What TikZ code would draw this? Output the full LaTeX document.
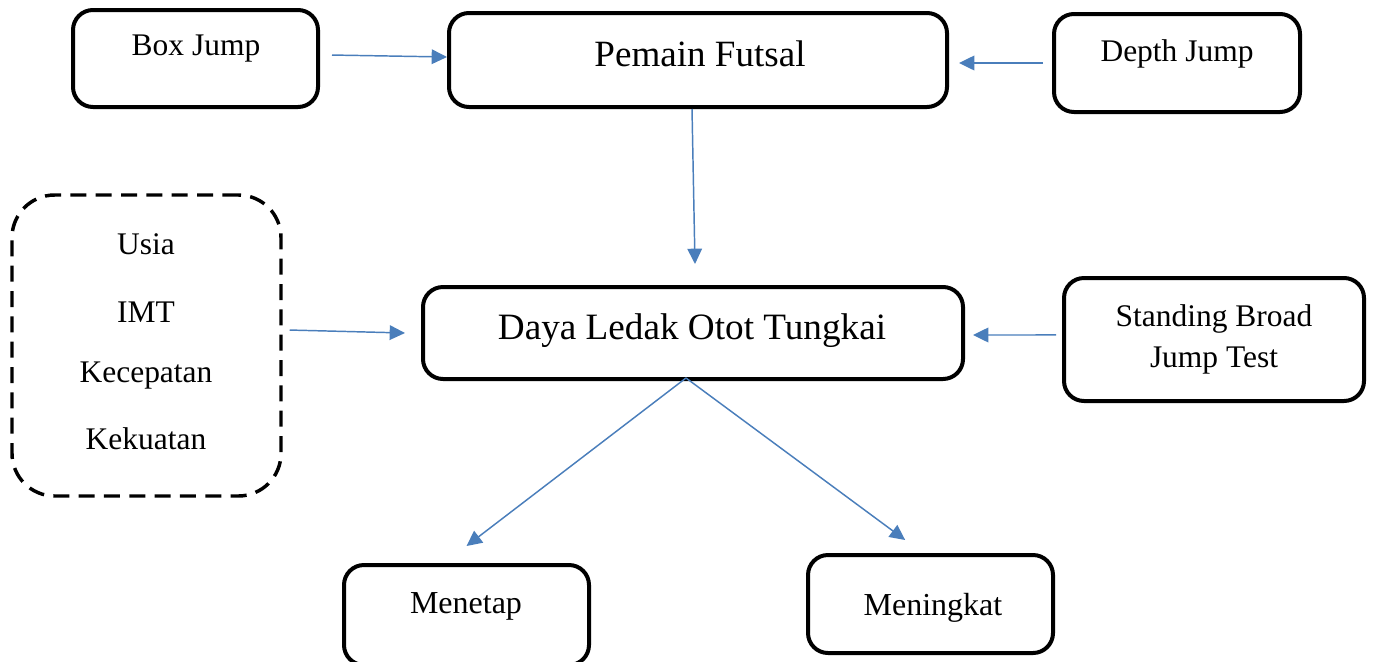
\documentclass[tikz,border=0pt]{standalone}
\usepackage{fontspec}
\setmainfont{Liberation Serif}
\usetikzlibrary{arrows.meta,calc}
\definecolor{arrblue}{HTML}{4A7EBB}
\tikzset{
  box/.style={draw=black, line width=3pt, rounded corners=15pt, inner sep=0pt},
  dbox/.style={draw=black, line width=2.6pt, rounded corners=32pt, inner sep=0pt, dash pattern=on 12pt off 7pt},
  txt/.style={inner sep=0pt, font=\fontsize{23.6pt}{28pt}\selectfont, align=center},
  arr/.style={draw=arrblue, line width=1.1pt, -{Triangle[length=11.5pt,width=11pt]}},
}
\begin{document}
\begin{tikzpicture}[x=0.75pt,y=-0.75pt]
\useasboundingbox (0,0) rectangle (1376,661);
\begin{scope}
\clip (0,0) rectangle (1376,661);
% boxes
\node[box, minimum width={245*0.75pt}, minimum height={97*0.75pt}] (bj) at (195.5,58.5) {};
\node[box, minimum width={498*0.75pt}, minimum height={94*0.75pt}] (pf) at (698,60) {};
\node[box, minimum width={246*0.75pt}, minimum height={98*0.75pt}] (dj) at (1177,63) {};
\node[dbox, minimum width={269*0.75pt}, minimum height={301*0.75pt}] (fk) at (146.5,345.5) {};
\node[box, minimum width={540*0.75pt}, minimum height={92*0.75pt}] (dl) at (693,333) {};
\node[box, minimum width={300*0.75pt}, minimum height={123*0.75pt}] (sb) at (1214,339.5) {};
\node[box, minimum width={245*0.75pt}, minimum height={100*0.75pt}] (mt) at (466.5,615) {};
\node[box, minimum width={245*0.75pt}, minimum height={98*0.75pt}] (mk) at (930.5,604) {};
\end{scope}
% texts
\node[txt] (tbj) at (196,49) {Box Jump};
\node[txt, font=\fontsize{27.8pt}{32pt}\selectfont] (tpf) at (700,54) {Pemain Futsal};
\node[txt] (tdj) at (1177,54) {Depth Jump};
\node[txt] (t1) at (146,244) {Usia};
\node[txt] (t2) at (146,312) {IMT};
\node[txt] (t3) at (146,376) {Kecepatan};
\node[txt] (t4) at (146,439) {Kekuatan};
\node[txt, font=\fontsize{27.9pt}{32pt}\selectfont] (tdl) at (692,331) {Daya Ledak Otot Tungkai};
\node[txt] (tsb1) at (1214,319) {Standing Broad};
\node[txt] (tsb2) at (1214,361) {Jump Test};
\node[txt, font=\fontsize{24pt}{28pt}\selectfont] (tmt) at (466,606) {Menetap};
\node[txt, font=\fontsize{24pt}{28pt}\selectfont] (tmk) at (933,608) {Meningkat};
% connectors
\draw[arr] ([xshift=9pt,yshift=2.6pt]bj.east) -- ([yshift=2.25pt]pf.west);
\draw[arr] ([xshift=-6.75pt]dj.west) -- ([xshift=7.5pt,yshift=-2.25pt]pf.east);
\draw[arr] ([xshift=-4.5pt]pf.south) -- ([xshift=1.5pt,yshift=15.75pt]dl.north);
\draw[arr] ([xshift=5.25pt,yshift=11.6pt]fk.east) -- ([xshift=-12pt]dl.west);
\draw[arr] ([xshift=-4.5pt,yshift=3.4pt]sb.west) -- ([xshift=6pt,yshift=-1.5pt]dl.east);
\draw[arr] ([xshift=-5.25pt,yshift=2.25pt]dl.south) -- ([yshift=12.75pt]mt.north);
\draw[arr] ([xshift=-5.25pt,yshift=2.25pt]dl.south) -- ([xshift=-19pt,yshift=9.75pt]mk.north);
\end{tikzpicture}
\end{document}
